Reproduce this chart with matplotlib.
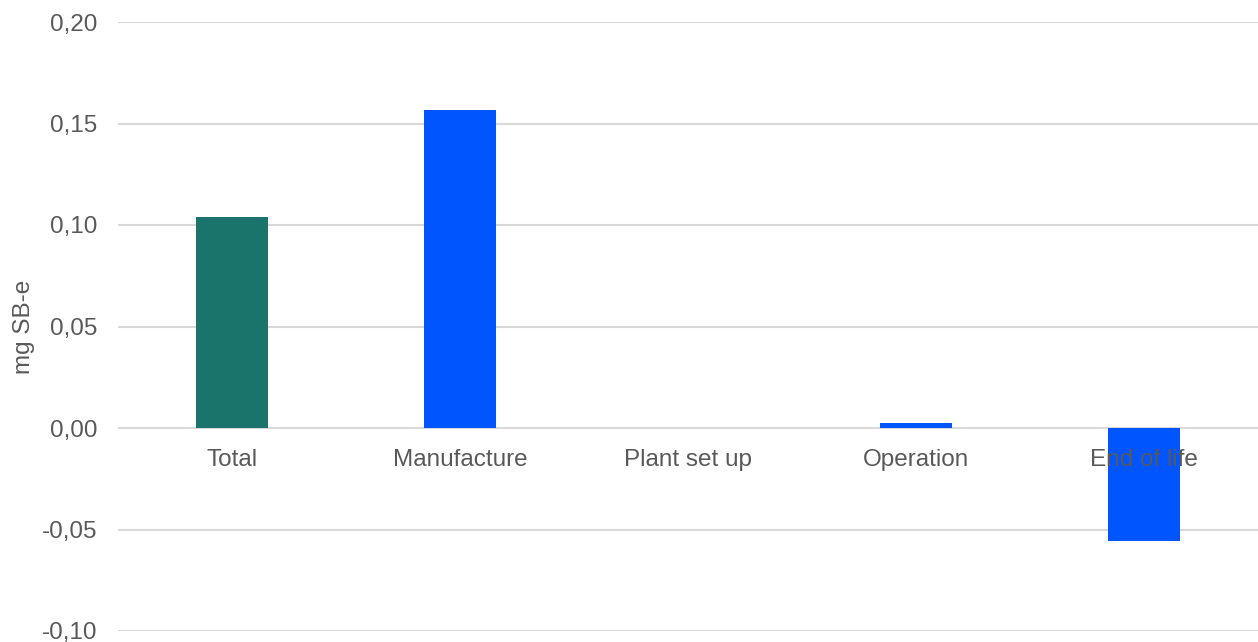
import numpy as np
import matplotlib.pyplot as plt
from matplotlib.ticker import FuncFormatter
import matplotlib.transforms as mtransforms

plt.rcParams['font.family'] = ['Liberation Sans', 'DejaVu Sans']

categories = ['Total', 'Manufacture', 'Plant set up', 'Operation', 'End of life']
values = [0.1037, 0.1568, 0.0002, 0.0027, -0.0557]
colors = ['#1a746c', '#0055ff', '#0055ff', '#0055ff', '#0055ff']

fig = plt.figure(figsize=(12.58, 6.42), dpi=100)
ax = fig.add_axes([118 / 1258, 1 - 631 / 642, 1 - 118 / 1258, (631 - 22) / 642])

x = np.arange(len(categories))
ax.bar(x, values, width=0.316, color=colors, zorder=2)

ax.set_xlim(-0.5, len(categories) - 0.5)
ax.set_ylim(-0.10, 0.20)
ax.set_yticks(np.arange(-0.10, 0.201, 0.05))
ax.yaxis.set_major_formatter(FuncFormatter(lambda v, p: f'{v:.2f}'.replace('.', ',')))
ax.tick_params(axis='y', length=0, pad=15, labelsize=17.5, labelcolor='#595959')
ax.set_xticks([])
ax.grid(axis='y', color='#d9d9d9', linewidth=1.5, zorder=0)
for s in ax.spines.values():
    s.set_visible(False)

# category labels sit just under the zero line
trans = mtransforms.offset_copy(ax.transData, fig=fig, x=0, y=-15, units='points')
for xi, name in zip(x, categories):
    ax.text(xi, 0, name, transform=trans, ha='center', va='top',
            fontsize=17.5, color='#595959', zorder=3)

ax.set_ylabel('mg SB-e', fontsize=17.5, color='#595959', labelpad=5)

fig.savefig('out.png', dpi=100)
